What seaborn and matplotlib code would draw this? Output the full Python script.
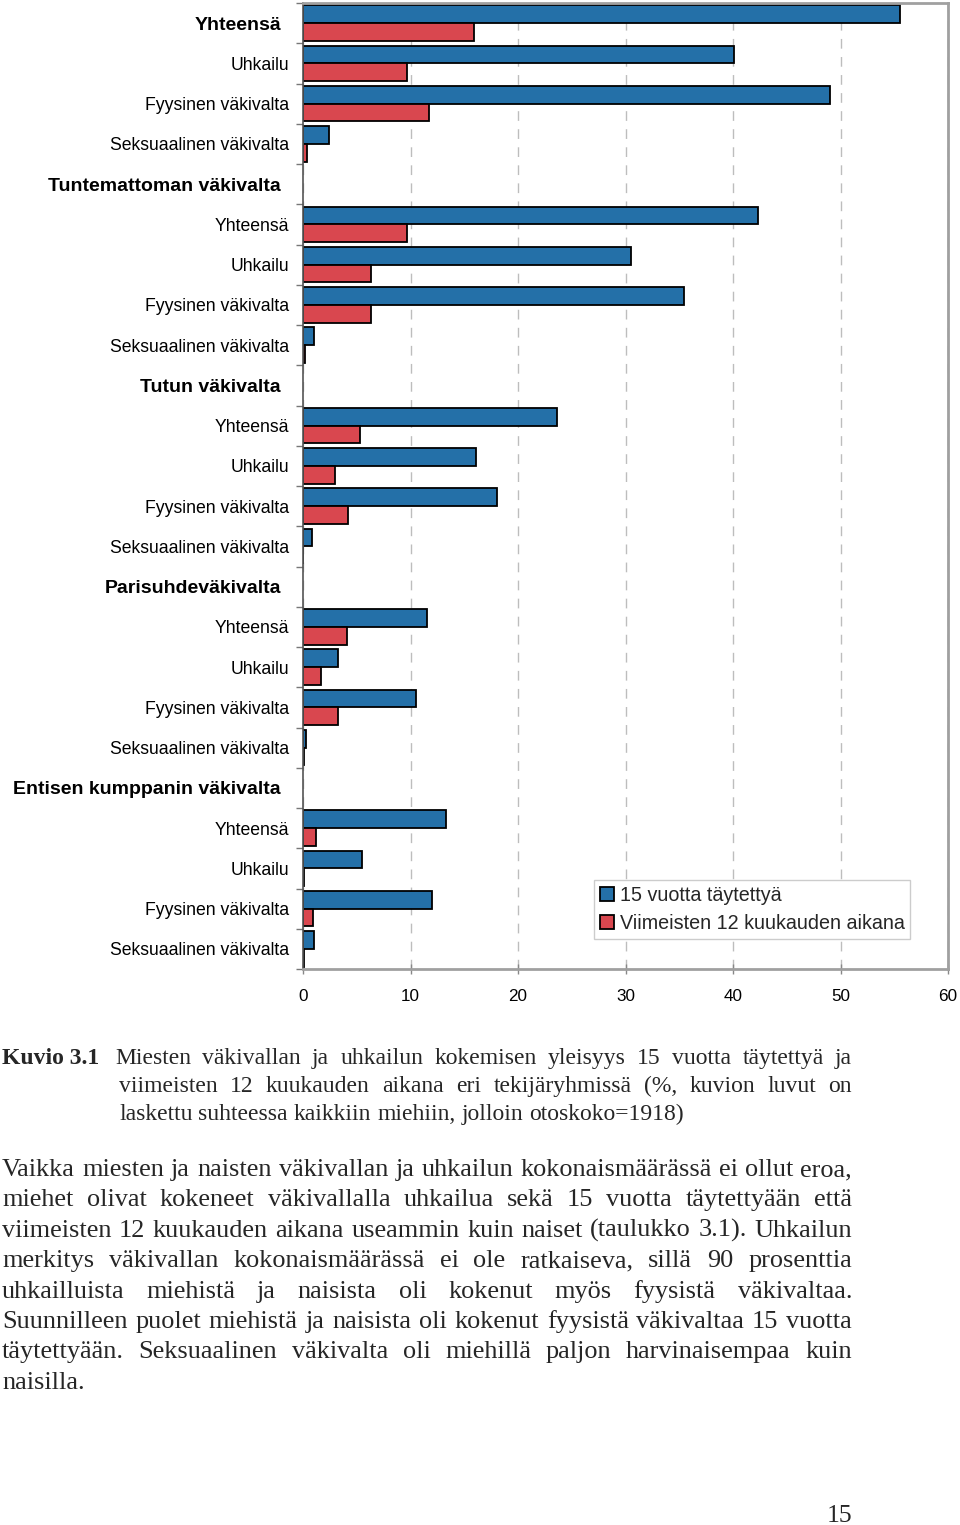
import matplotlib
matplotlib.use("Agg")
import matplotlib.pyplot as plt
import matplotlib.transforms as mtransforms
import pandas as pd
import seaborn as sns

# rivit ylhäältä alas, otsikkorivit ilman palkkeja
rivit = ["Yhteensä", "Uhkailu", "Fyysinen väkivalta", "Seksuaalinen väkivalta",
         "Tuntemattoman väkivalta", "Yhteensä", "Uhkailu", "Fyysinen väkivalta", "Seksuaalinen väkivalta",
         "Tutun väkivalta", "Yhteensä", "Uhkailu", "Fyysinen väkivalta", "Seksuaalinen väkivalta",
         "Parisuhdeväkivalta", "Yhteensä", "Uhkailu", "Fyysinen väkivalta", "Seksuaalinen väkivalta",
         "Entisen kumppanin väkivalta", "Yhteensä", "Uhkailu", "Fyysinen väkivalta", "Seksuaalinen väkivalta"]
lihavoitu = [True, False, False, False,
             True, False, False, False, False,
             True, False, False, False, False,
             True, False, False, False, False,
             True, False, False, False, False]

sarjat = ["15 vuotta täytettyä", "Viimeisten 12 kuukauden aikana"]
yli15 = [55.5, 40.1, 49.0, 2.4,
         None, 42.3, 30.5, 35.4, 1.0,
         None, 23.6, 16.1, 18.0, 0.8,
         None, 11.5, 3.3, 10.5, 0.3,
         None, 13.3, 5.5, 12.0, 1.0]
kk12 = [15.9, 9.7, 11.7, 0.4,
        None, 9.7, 6.3, 6.3, 0.2,
        None, 5.3, 3.0, 4.2, 0.0,
        None, 4.1, 1.7, 3.3, 0.1,
        None, 1.2, 0.1, 0.9, 0.1]
xtikit = [0, 10, 20, 30, 40, 50, 60]

kuvateksti = [
    "Miesten väkivallan ja uhkailun kokemisen yleisyys 15 vuotta täytettyä ja",
    "viimeisten 12 kuukauden aikana eri tekijäryhmissä (%, kuvion luvut on",
    "laskettu suhteessa kaikkiin miehiin, jolloin otoskoko=1918)",
]
leipateksti = [
    "Vaikka miesten ja naisten väkivallan ja uhkailun kokonaismäärässä ei ollut eroa,",
    "miehet olivat kokeneet väkivallalla uhkailua sekä 15 vuotta täytettyään että",
    "viimeisten 12 kuukauden aikana useammin kuin naiset (taulukko 3.1). Uhkailun",
    "merkitys väkivallan kokonaismäärässä ei ole ratkaiseva, sillä 90 prosenttia",
    "uhkailluista miehistä ja naisista oli kokenut myös fyysistä väkivaltaa.",
    "Suunnilleen puolet miehistä ja naisista oli kokenut fyysistä väkivaltaa 15 vuotta",
    "täytettyään. Seksuaalinen väkivalta oli miehillä paljon harvinaisempaa kuin",
    "naisilla.",
]

sininen = "#2470a8"
punainen = "#d9474f"

avaimet = [str(i) for i in range(len(rivit))]
data = []
for i, k in enumerate(avaimet):
    if yli15[i] is not None:
        data.append({"rivi": k, "sarja": sarjat[0], "arvo": yli15[i]})
        data.append({"rivi": k, "sarja": sarjat[1], "arvo": kk12[i]})
df = pd.DataFrame(data)

sns.set_theme(style="white")
plt.rcParams["font.family"] = ["Liberation Sans", "DejaVu Sans"]

W, H = 960, 1525
fig = plt.figure(figsize=(W / 100, H / 100), dpi=100)
ax = fig.add_axes([303 / W, 1 - 969 / H, (948 - 303) / W, (969 - 3) / H])

sns.barplot(data=df, y="rivi", x="arvo", hue="sarja", order=avaimet,
            hue_order=sarjat, palette=[sininen, punainen], orient="h", saturation=1,
            width=0.88, edgecolor="black", linewidth=1.3, ax=ax)

ax.set_xlim(0, 60)
ax.set_ylim(len(rivit) - 0.5, -0.5)
ax.set_xticks(xtikit)
ax.set_xlabel("")
ax.set_ylabel("")
ax.xaxis.grid(True, linestyle=(0, (7, 6)), color="#bdbdbd", linewidth=1)
ax.set_axisbelow(True)

ax.set_yticks(range(len(rivit)))
ax.set_yticklabels(rivit)
ax.set_yticks([i - 0.5 for i in range(len(rivit) + 1)], minor=True)
ax.tick_params(axis="y", which="major", length=0, pad=10, labelsize=12.7, labelcolor="black")
ax.tick_params(axis="y", which="minor", length=5, width=1, color="#777777", left=True)
ax.tick_params(axis="x", which="major", direction="inout", length=7, width=1,
               color="#888888", pad=11, labelsize=12.3, labelcolor="black", bottom=True)

siirto = mtransforms.ScaledTranslation(-0.08, 0, fig.dpi_scale_trans)
for lab, lih in zip(ax.get_yticklabels(), lihavoitu):
    if lih:
        lab.set_fontweight("bold")
        lab.set_fontsize(14)
        lab.set_transform(lab.get_transform() + siirto)

ax.spines["left"].set_color("#555555")
ax.spines["left"].set_linewidth(1.2)
for s in ["top", "right", "bottom"]:
    ax.spines[s].set_color("#a0a0a0")
    ax.spines[s].set_linewidth(2)

leg = ax.legend(loc="lower left", bbox_to_anchor=(0.451, 0.031), borderaxespad=0,
                fontsize=14.2, frameon=True, fancybox=False, framealpha=1,
                edgecolor="#cccccc", handlelength=0.7, handleheight=0.7,
                handletextpad=0.3, labelspacing=0.45, borderpad=0.3)
leg.get_frame().set_linewidth(1)

# kuvateksti ja leipäteksti tasattuina
renderer = fig.canvas.get_renderer()


def rivi(teksti, x0, x1, y, tasaa, **kw):
    sanat = teksti.split()
    osat = [fig.text(x0 / W, 1 - y / H, s, ha="left", va="baseline", **kw) for s in sanat]
    leveydet = [o.get_window_extent(renderer).width for o in osat]
    koko = kw.get("fontsize", 12) * 100 / 72
    if tasaa and len(osat) > 1:
        vali = (x1 - x0 - sum(leveydet)) / (len(osat) - 1)
    else:
        vali = 0.25 * koko
    x = x0
    for o, w in zip(osat, leveydet):
        o.set_x(x / W)
        x += w + vali


serif = ["Liberation Serif", "DejaVu Serif"]
fig.text(2 / W, 1 - 1064 / H, "Kuvio 3.1", ha="left", va="baseline",
         fontsize=17, fontweight="bold", family=serif)
kt_y = [1064, 1092, 1120]
for j, t in enumerate(kuvateksti):
    x0 = 115 if j == 0 else 119
    rivi(t, x0, 852, kt_y[j], j < len(kuvateksti) - 1, fontsize=17, family=serif)

for j, t in enumerate(leipateksti):
    y = 1176 + j * 30.4
    rivi(t, 2, 852, y, j != len(leipateksti) - 1, fontsize=18.9, family=serif)

fig.text(839 / W, 1 - 1522 / H, "15", ha="center", va="baseline", fontsize=18.5, family=serif)

fig.savefig("out.png", dpi=100)
